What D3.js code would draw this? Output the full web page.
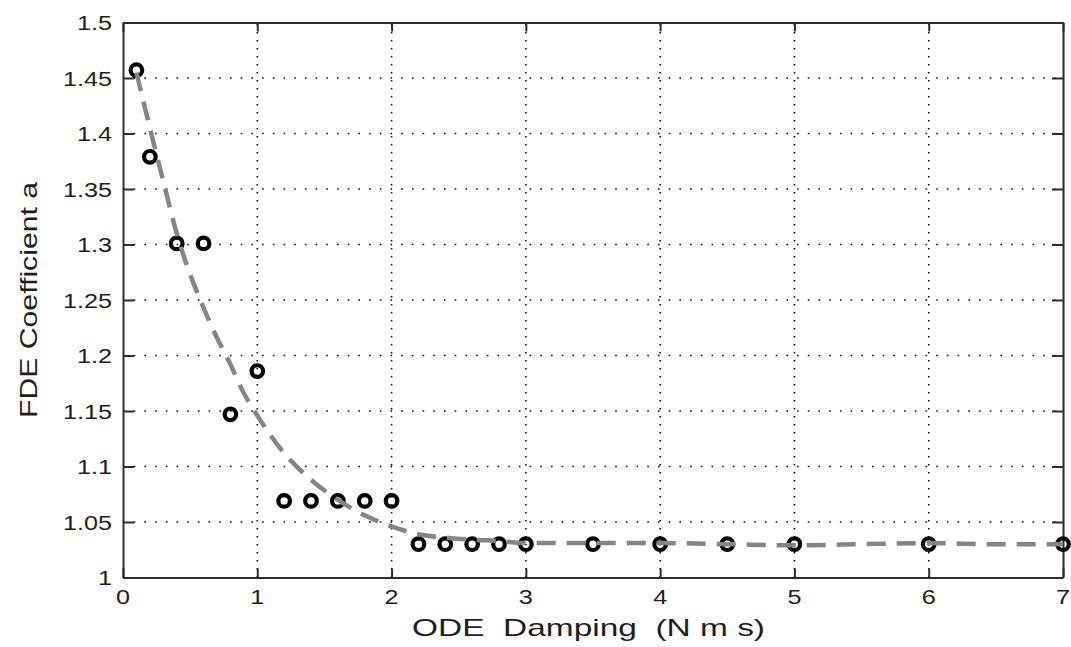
<!DOCTYPE html>
<html>
<head>
<meta charset="utf-8">
<script src="https://cdn.jsdelivr.net/npm/d3@7"></script>
<style>
  html, body { margin: 0; padding: 0; background: #fff; }
  svg { display: block; }
  text { font-family: "Liberation Sans", Arial, Helvetica, sans-serif; fill: #1e1e1e; }
</style>
</head>
<body>
<svg id="chart" width="1071" height="647"></svg>
<script>
// Measured FDE coefficient against ODE damping
const damping = [0.1, 0.2, 0.4, 0.6, 0.8, 1.0, 1.2, 1.4, 1.6, 1.8, 2.0, 2.2, 2.4, 2.6, 2.8, 3.0, 3.5, 4.0, 4.5, 5.0, 6.0, 7.0];
const coeffA  = [1.457, 1.379, 1.301, 1.301, 1.147, 1.186, 1.069, 1.069, 1.069, 1.069, 1.069, 1.030, 1.030, 1.030, 1.030, 1.030, 1.030, 1.030, 1.030, 1.030, 1.030, 1.030];

// Fitted trend curve
const fitDamping = [0.1, 0.2, 0.3, 0.4, 0.5, 0.6, 0.7, 0.8, 0.9, 1.0, 1.2, 1.4, 1.6, 1.8, 2.0, 2.2, 2.4, 2.6, 2.8, 3.0, 3.5, 4.0, 4.5, 5.0, 5.5, 6.0, 6.5, 7.0];
const fitCoeff   = [1.455, 1.405, 1.357, 1.310, 1.273, 1.243, 1.216, 1.192, 1.166, 1.146, 1.112, 1.088, 1.070, 1.056, 1.046, 1.039, 1.036, 1.034, 1.033, 1.031, 1.031, 1.031, 1.030, 1.029, 1.030, 1.031, 1.030, 1.030];

// Axis ticks
const xTicks = [0, 1, 2, 3, 4, 5, 6, 7];
const xTickLabels = ["0", "1", "2", "3", "4", "5", "6", "7"];
const yTicks = [1, 1.05, 1.1, 1.15, 1.2, 1.25, 1.3, 1.35, 1.4, 1.45, 1.5];
const yTickLabels = ["1", "1.05", "1.1", "1.15", "1.2", "1.25", "1.3", "1.35", "1.4", "1.45", "1.5"];

const xTitle = "ODE  Damping  (N m s)";
const yTitle = "FDE Coefficient a";

const svg = d3.select("#chart");
const plot = { left: 123, right: 1063, top: 22.5, bottom: 577.5 };

const x = d3.scaleLinear().domain([0, 7]).range([plot.left, plot.right]);
const y = d3.scaleLinear().domain([1, 1.5]).range([plot.bottom, plot.top]);

// Dotted grid
const grid = svg.append("g").attr("stroke", "#111").attr("stroke-width", 1.6);
grid.selectAll("line.h")
  .data(yTicks.slice(1, -1))
  .join("line")
  .attr("class", "h")
  .attr("x1", plot.left).attr("x2", plot.right)
  .attr("y1", d => y(d)).attr("y2", d => y(d))
  .attr("stroke-dasharray", "1.6,9.1");
grid.selectAll("line.v")
  .data(xTicks.slice(1, -1))
  .join("line")
  .attr("class", "v")
  .attr("x1", d => x(d)).attr("x2", d => x(d))
  .attr("y1", plot.bottom).attr("y2", plot.top)
  .attr("stroke-dasharray", "1.6,6.4");

// Box axes with inward ticks on all four sides
function styleAxis(g) {
  g.selectAll("path.domain").attr("stroke", "#2e2e2e").attr("stroke-width", 2);
  g.selectAll(".tick line").attr("stroke", "#2e2e2e").attr("stroke-width", 2);
  g.selectAll(".tick text").remove();
}
svg.append("g").attr("transform", `translate(0,${plot.bottom})`)
  .call(d3.axisBottom(x).tickValues(xTicks).tickSize(-9).tickSizeOuter(0).tickFormat(""))
  .call(styleAxis);
svg.append("g").attr("transform", `translate(0,${plot.top})`)
  .call(d3.axisTop(x).tickValues(xTicks).tickSize(-9).tickSizeOuter(0).tickFormat(""))
  .call(styleAxis);
svg.append("g").attr("transform", `translate(${plot.left},0)`)
  .call(d3.axisLeft(y).tickValues(yTicks).tickSize(-11).tickSizeOuter(0).tickFormat(""))
  .call(styleAxis);
svg.append("g").attr("transform", `translate(${plot.right},0)`)
  .call(d3.axisRight(y).tickValues(yTicks).tickSize(-11).tickSizeOuter(0).tickFormat(""))
  .call(styleAxis);

// Tick labels (slightly widened glyphs)
svg.append("g").selectAll("text")
  .data(xTicks)
  .join("text")
  .attr("transform", d => `translate(${x(d)},596) scale(1.2,1)`)
  .attr("text-anchor", "middle")
  .attr("dy", "0.36em")
  .attr("font-size", 21)
  .text((d, i) => xTickLabels[i]);
svg.append("g").selectAll("text")
  .data(yTicks)
  .join("text")
  .attr("transform", d => `translate(112,${y(d)}) scale(1.2,1)`)
  .attr("text-anchor", "end")
  .attr("dy", "0.36em")
  .attr("font-size", 21)
  .text((d, i) => yTickLabels[i]);

// Axis titles
svg.append("text")
  .attr("x", 588.5).attr("y", 636)
  .attr("text-anchor", "middle")
  .attr("font-size", 24)
  .attr("textLength", 353)
  .attr("lengthAdjust", "spacingAndGlyphs")
  .style("white-space", "pre")
  .text(xTitle);
svg.append("text")
  .attr("transform", "translate(37,300) rotate(-90)")
  .attr("text-anchor", "middle")
  .attr("font-size", 24)
  .attr("textLength", 236)
  .attr("lengthAdjust", "spacingAndGlyphs")
  .text(yTitle);

// Measured points
svg.append("g").selectAll("circle")
  .data(damping)
  .join("circle")
  .attr("cx", d => x(d))
  .attr("cy", (d, i) => y(coeffA[i]))
  .attr("r", 5.8)
  .attr("fill", "none")
  .attr("stroke", "#000")
  .attr("stroke-width", 4.2);

// Fitted dashed curve
const line = d3.line()
  .x(d => x(d))
  .y((d, i) => y(fitCoeff[i]))
  .curve(d3.curveMonotoneX);
svg.append("path")
  .datum(fitDamping)
  .attr("d", line)
  .attr("fill", "none")
  .attr("stroke", "#858585")
  .attr("stroke-width", 4.5)
  .attr("stroke-dasharray", "19,11");
</script>
</body>
</html>
